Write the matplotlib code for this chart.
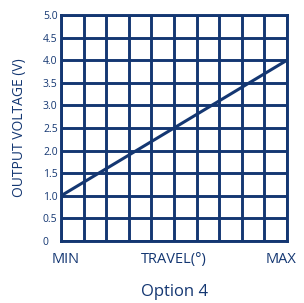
import matplotlib
matplotlib.use("Agg")
import matplotlib.pyplot as plt
import numpy as np

navy = "#143772"
travel = [0, 10]
voltage = [1.0, 4.0]
y_ticks = [0, 0.5, 1.0, 1.5, 2.0, 2.5, 3.0, 3.5, 4.0, 4.5, 5.0]
y_labels = ["0", "0.5", "1.0", "1.5", "2.0", "2.5", "3.0", "3.5", "4.0", "4.5", "5.0"]
x_grid = list(range(0, 11))
x_labels = ["MIN", "TRAVEL(°)", "MAX"]
x_label_pos = [0.2, 5.0, 9.75]

plt.rcParams['font.family'] = ['Open Sans', 'DejaVu Sans']
fig = plt.figure(figsize=(3.04, 3.03), dpi=100)
ax = fig.add_axes([61/304, 1 - 241/303, 226/304, 226/303])
ax.set_xlim(0, 10)
ax.set_ylim(0, 5)
ax.set_xticks(x_grid)
ax.set_xticklabels([])
ax.set_yticks(y_ticks)
ax.set_yticklabels(y_labels, fontsize=7.5, color=navy, ha='left')
ax.tick_params(axis='y', length=0, pad=13)
ax.tick_params(axis='x', length=0)
ax.grid(True, color=navy, lw=2.1)
for s in ax.spines.values():
    s.set_color(navy)
    s.set_linewidth(2.1)
ax.plot(travel, voltage, color=navy, lw=2.2, solid_capstyle='butt', zorder=3)
ax.set_axisbelow(True)
for lab, xp in zip(x_labels, x_label_pos):
    ax.text(xp, -0.40, lab, ha='center', va='center', color=navy,
            fontsize=10.5, transform=ax.transData, clip_on=False)
fig.text(175/304, 1 - 292/303, "Option 4", ha='center', va='center', color=navy, fontsize=12)
fig.text(20/304, 1 - 128/303, "OUTPUT VOLTAGE (V)", ha='center', va='center', rotation=90,
         color=navy, fontsize=10)
fig.savefig("out.png", dpi=100)
